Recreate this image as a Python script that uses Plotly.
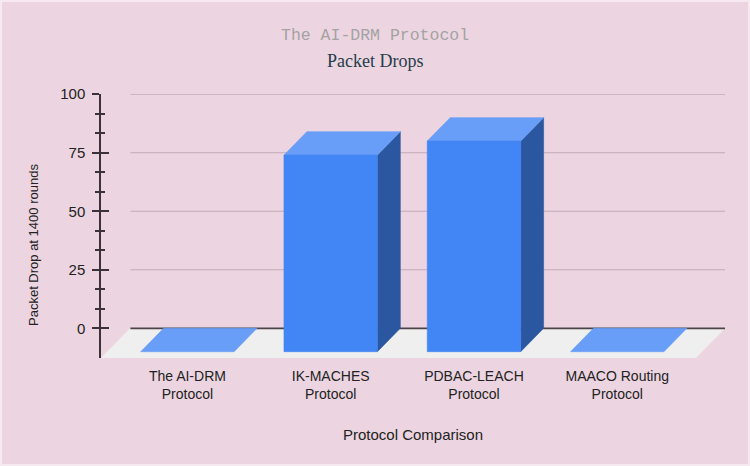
import plotly.graph_objects as go

# ---- data ----
categories = ["The AI-DRM<br>Protocol", "IK-MACHES<br>Protocol",
              "PDBAC-LEACH<br>Protocol", "MAACO Routing<br>Protocol"]
packet_drops = [0, 84, 90, 0]
y_ticks = [0, 25, 50, 75, 100]
y_tick_labels = ["0", "25", "50", "75", "100"]

# ---- style / geometry ----
BG = "rgb(236,213,224)"
FRONT = "#4285F4"
TOP = "#689ef7"
SIDE = "#2b57a1"
FLOOR = "#efefef"
GRID = "#c2a9b6"
ZERO = "#4d4347"
BAR_HALF = 0.326      # half width of bar in category units
DX = 0.16             # depth offset in x (category units)
DY = 10.0             # depth offset in y (value units)
FLOOR_DX = 0.205
FLOOR_DY = 12.7
X_RANGE = [-0.603, 3.752]
Y_RANGE = [-12.7, 100.1]

fig = go.Figure()

def poly(xs, ys, color):
    fig.add_trace(go.Scatter(
        x=xs + [xs[0]], y=ys + [ys[0]], mode="lines", fill="toself",
        fillcolor=color, line=dict(color=color, width=0.6),
        hoverinfo="skip", showlegend=False))

# floor
bx0 = X_RANGE[0] + FLOOR_DX
bx1 = X_RANGE[1]
poly([bx0, bx1, bx1 - FLOOR_DX, bx0 - FLOOR_DX],
     [0, 0, -FLOOR_DY, -FLOOR_DY], FLOOR)

# zero line on back plane
fig.add_trace(go.Scatter(x=[bx0, bx1], y=[0, 0], mode="lines",
                         line=dict(color=ZERO, width=1.8),
                         hoverinfo="skip", showlegend=False))

# bars
for i, v in enumerate(packet_drops):
    x0 = i - BAR_HALF
    x1 = i + BAR_HALF
    yb = -DY
    yt = v - DY
    if v > 0:
        poly([x1, x1 + DX, x1 + DX, x1], [yb, yb + DY, yt + DY, yt], SIDE)
    poly([x0, x1, x1 + DX, x0 + DX], [yt, yt, yt + DY, yt + DY], TOP)
    if v > 0:
        poly([x0, x1, x1, x0], [yb, yb, yt, yt], FRONT)

# gridlines on back plane
shapes = []
for t in y_ticks[1:]:
    shapes.append(dict(type="line", xref="x", yref="y", x0=bx0, x1=bx1,
                       y0=t, y1=t, line=dict(color=GRID, width=1),
                       layer="below"))
# thin light frame
shapes.append(dict(type="rect", xref="paper", yref="paper",
                   x0=-100/624, x1=(749-101)/624,
                   y0=-107/264, y1=(358-1)/264,
                   line=dict(color="#f6eaf0", width=2), layer="below"))

minor_vals = [25 / 3 * k for k in range(1, 12) if k % 3 != 0]

fig.update_layout(
    width=750, height=466,
    margin=dict(l=101, r=25, t=94, b=108),
    paper_bgcolor=BG, plot_bgcolor=BG,
    shapes=shapes,
    font=dict(family="Liberation Sans, Arial", size=14, color="#222"),
    xaxis=dict(range=X_RANGE, tickmode="array", tickvals=list(range(len(categories))),
               ticktext=categories, showgrid=False, zeroline=False,
               showline=False, ticks="", ticklabelstandoff=8,
               tickfont=dict(size=14, color="#222"),
               title=dict(text="Protocol Comparison", font=dict(size=15, color="#222"),
                          standoff=28)),
    yaxis=dict(range=Y_RANGE, tickmode="array", tickvals=y_ticks,
               ticktext=y_tick_labels, showgrid=False, zeroline=False,
               showline=True, linecolor="#3a3236", linewidth=1.5,
               ticks="outside", ticklen=7, tickwidth=1.5, tickcolor="#3a3236",
               ticklabelstandoff=4,
               tickfont=dict(size=15, color="#222"),
               minor=dict(tickmode="array", tickvals=minor_vals, ticks="outside",
                          ticklen=4, tickwidth=1.5, tickcolor="#3a3236",
                          showgrid=False)),
    yaxis2=dict(range=Y_RANGE, overlaying="y", side="left", anchor="x",
                tickmode="array", tickvals=y_ticks, showticklabels=False,
                showgrid=False, zeroline=False, showline=False,
                ticks="inside", ticklen=8, tickwidth=1.5, tickcolor="#3a3236",
                minor=dict(tickmode="array", tickvals=minor_vals, ticks="inside",
                           ticklen=4, tickwidth=1.5, tickcolor="#3a3236",
                           showgrid=False)),
    annotations=[
        dict(text="The AI-DRM Protocol", xref="paper", yref="paper",
             x=(375 - 101) / 624, y=(358 - 35) / 264, showarrow=False,
             xanchor="center", yanchor="middle",
             font=dict(family="Liberation Mono, Courier New", size=16.5, color="#a3a3a3")),
        dict(text="Packet Drops", xref="paper", yref="paper",
             x=(375 - 101) / 624, y=(358 - 61) / 264, showarrow=False,
             xanchor="center", yanchor="middle",
             font=dict(family="Liberation Serif, Times New Roman", size=18, color="#263d4b")),
        dict(text="Packet Drop at 1400 rounds", xref="paper", yref="paper",
             x=(33 - 101) / 624, y=(358 - 245) / 264, showarrow=False,
             xanchor="center", yanchor="middle", textangle=-90,
             font=dict(size=13, color="#222")),
    ],
)

# dummy trace to activate yaxis2
fig.add_trace(go.Scatter(x=[None], y=[None], yaxis="y2", showlegend=False,
                         hoverinfo="skip"))

fig.write_html("out.html")
